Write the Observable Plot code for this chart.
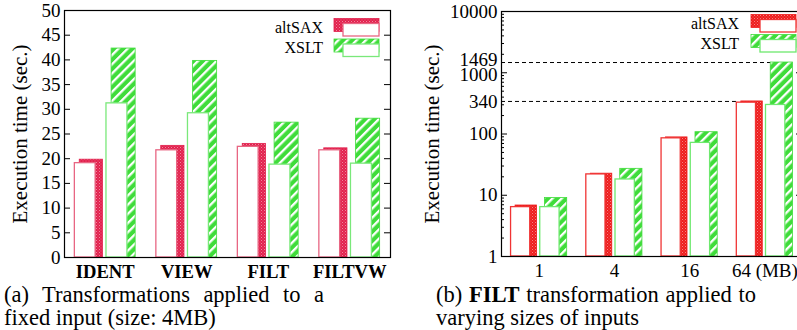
<!DOCTYPE html>
<html><head><meta charset="utf-8">
<script src="https://cdn.jsdelivr.net/npm/d3@7"></script>
<script src="https://cdn.jsdelivr.net/npm/@observablehq/plot@0.6"></script>
<style>
html,body{margin:0;padding:0;background:#fff;overflow:hidden;}
#wrap{position:relative;width:797px;height:330px;overflow:hidden;font-family:"Liberation Serif",serif;background:#fff;}
#wrap svg{position:absolute;top:0;}
.cap{position:absolute;width:320px;font-size:22.5px;line-height:23px;color:#000;white-space:nowrap;}
.j{text-align:justify;text-align-last:justify;white-space:normal;}
</style></head><body>
<div id="wrap"></div>
<script>
// ---- data ----
const seriesNames = ["altSAX", "XSLT"];
const categoriesA = ["IDENT", "VIEW", "FILT", "FILTVW"];
const altSaxTotalA = [19.8, 22.6, 23.0, 22.1];
const altSaxInnerA = [19.1, 21.7, 22.4, 21.7];
const xsltTotalA   = [42.3, 39.8, 27.3, 28.1];
const xsltInnerA   = [31.2, 29.2, 18.8, 19.0];
const yTicksA = [0, 5, 10, 15, 20, 25, 30, 35, 40, 45, 50];

const sizesB = ["1", "4", "16", "64"];
const unitB = "(MB)";
const altSaxTotalB = [6.8, 22.5, 88, 340];
const altSaxInnerB = [6.4, 21.9, 85, 325];
const xsltTotalB   = [9.0, 27, 107, 1469];
const xsltInnerB   = [6.4, 18.1, 71.6, 298];
const yTicksB = [1, 10, 100, 340, 1000, 1469, 10000];
const yMajorB = [1, 10, 100, 1000, 10000];

const yTitle = "Execution time (sec.)";

// ---- layout constants (band-relative offsets) ----
const OFF = {
  altShadow: [-0.313, -0.028], altWhite: [-0.373, -0.118],
  xsltShadow: [0.078, 0.373], xsltWhite: [0.015, 0.272]
};
function rows(vals, o) { return vals.map((v, i) => ({x1: i + o[0], x2: i + o[1], v})); }

function addDefs(svg, id, red) {
  const ns = "http://www.w3.org/2000/svg";
  const defs = document.createElementNS(ns, "defs");
  defs.innerHTML = `
   <pattern id="${id}-red" width="3" height="3" patternUnits="userSpaceOnUse">
     <rect width="3" height="3" fill="${red}"/>
     <rect x="0" y="0" width="1" height="1" fill="#fff" fill-opacity="0.45"/>
     <rect x="1.5" y="1.5" width="1" height="1" fill="#fff" fill-opacity="0.3"/>
   </pattern>
   <pattern id="${id}-green" width="6.5" height="6.5" patternUnits="userSpaceOnUse" patternTransform="rotate(45)">
     <rect width="6.5" height="6.5" fill="#3fdc3a"/>
     <rect width="2.3" height="6.5" fill="#fff"/>
   </pattern>`;
  svg.insertBefore(defs, svg.firstChild);
}
function addLegend(svg, id, red, redLine, greenLine, textRight, ys, sx) {
  const ns = "http://www.w3.org/2000/svg";
  const g = document.createElementNS(ns, "g");
  const fills = [`url(#${id}-red)`, `url(#${id}-green)`];
  const lines = [redLine, greenLine];
  const shadowStroke = [red, "#3fdc3a"];
  let html = "";
  seriesNames.forEach((name, k) => {
    const cy = ys[k];
    html += `<text x="${textRight}" y="${cy}" dy="0.34em" text-anchor="end" font-size="16" font-family="Liberation Serif">${name}</text>`;
    html += `<rect x="${sx}" y="${cy - 9}" width="45" height="13" fill="${fills[k]}" stroke="${shadowStroke[k]}" stroke-width="0.8"/>`;
    html += `<rect x="${sx + 9}" y="${cy - 4}" width="36" height="12.5" fill="#fff" stroke="${lines[k]}" stroke-width="1.3"/>`;
  });
  g.innerHTML = html;
  svg.appendChild(g);
}

const wrap = document.getElementById("wrap");
const H = 285;

// ---- panel (a) ----
{
  const W = 400, ml = 64, mr = 10, mt = 10, mb = H - 257;
  const pw = W - ml - mr;
  const red = "#e2214d", redLine = "#e86683", greenLine = "#7ae87a";
  const p = Plot.plot({
    width: W, height: H, marginLeft: ml, marginRight: mr, marginTop: mt, marginBottom: mb,
    style: {fontFamily: "Liberation Serif", fontSize: "19px", color: "#000", background: "transparent"},
    x: {type: "linear", domain: [-0.5, 3.5], axis: null},
    y: {type: "linear", domain: [0, 50], axis: null},
    marks: [
      Plot.rect(rows(altSaxTotalA, OFF.altShadow), {x1: "x1", x2: "x2", y1: 0, y2: "v", fill: "url(#pa-red)", stroke: red, strokeWidth: 0.8}),
      Plot.rect(rows(xsltTotalA, OFF.xsltShadow), {x1: "x1", x2: "x2", y1: 0, y2: "v", fill: "url(#pa-green)", stroke: "#3fdc3a", strokeWidth: 0.8}),
      Plot.rect(rows(altSaxInnerA, OFF.altWhite), {x1: "x1", x2: "x2", y1: 0, y2: "v", fill: "#fff", stroke: redLine, strokeWidth: 1.3}),
      Plot.rect(rows(xsltInnerA, OFF.xsltWhite), {x1: "x1", x2: "x2", y1: 0, y2: "v", fill: "#fff", stroke: greenLine, strokeWidth: 1.3}),
      Plot.frame({stroke: "#000", strokeWidth: 1.2}),
      Plot.tickY(yTicksA, {y: d => d, insetRight: pw - 6, stroke: "#000"}),
      Plot.tickY(yTicksA, {y: d => d, insetLeft: pw - 6, stroke: "#000"}),
      Plot.axisY({ticks: yTicksA, tickSize: 0, tickPadding: 4, label: null, tickFormat: d => String(d)}),
      Plot.text([yTitle], {frameAnchor: "left", dx: -44, rotate: -90, fontSize: 21, textAnchor: "middle", lineAnchor: "middle", text: d => d}),
      Plot.text(categoriesA, {x: (d, i) => i, frameAnchor: "bottom", lineAnchor: "top", dy: 7, fontWeight: "bold", fontSize: 18.6, text: d => d})
    ]
  });
  p.style.left = "0px";
  addDefs(p, "pa", red);
  addLegend(p, "pa", red, redLine, greenLine, 323, [27.5, 48], 334);
  wrap.appendChild(p);
}

// ---- panel (b) ----
{
  const left = 400, W = 410, ml = 101, mr = 8, mt = 11, mb = H - 256;
  const pw = W - ml - mr;
  const red = "#ee1c1c", redLine = "#f03434", greenLine = "#6ee86e";
  const minor = [2, 3, 4, 5, 6, 7, 8, 9].flatMap(m => [1, 10, 100, 1000].map(d => m * d));
  const dashRows = [
    {v: altSaxTotalB[3], x2: 3 + OFF.altWhite[0]},
    {v: xsltTotalB[3], x2: 3 + OFF.xsltShadow[0]}
  ];
  const up = [1469], down = [1000];
  const p = Plot.plot({
    width: W, height: H, marginLeft: ml, marginRight: mr, marginTop: mt, marginBottom: mb,
    style: {fontFamily: "Liberation Serif", fontSize: "19px", color: "#000", background: "transparent"},
    x: {type: "linear", domain: [-0.5, 3.5], axis: null},
    y: {type: "log", domain: [1, 10000], axis: null},
    marks: [
      Plot.ruleY(dashRows, {y: "v", x1: -0.5, x2: "x2", stroke: "#000", strokeWidth: 1, strokeDasharray: "4,3"}),
      Plot.rect(rows(altSaxTotalB, OFF.altShadow), {x1: "x1", x2: "x2", y1: 1, y2: "v", fill: "url(#pb-red)", stroke: red, strokeWidth: 0.8}),
      Plot.rect(rows(xsltTotalB, OFF.xsltShadow), {x1: "x1", x2: "x2", y1: 1, y2: "v", fill: "url(#pb-green)", stroke: "#3fdc3a", strokeWidth: 0.8}),
      Plot.rect(rows(altSaxInnerB, OFF.altWhite), {x1: "x1", x2: "x2", y1: 1, y2: "v", fill: "#fff", stroke: redLine, strokeWidth: 1.3}),
      Plot.rect(rows(xsltInnerB, OFF.xsltWhite), {x1: "x1", x2: "x2", y1: 1, y2: "v", fill: "#fff", stroke: greenLine, strokeWidth: 1.3}),
      Plot.frame({stroke: "#000", strokeWidth: 1.2}),
      Plot.tickY(minor, {y: d => d, insetRight: pw - 3, stroke: "#000"}),
      Plot.tickY(yMajorB, {y: d => d, insetRight: pw - 6, stroke: "#000"}),
      Plot.tickY(yMajorB, {y: d => d, insetLeft: pw - 6, stroke: "#000"}),
      Plot.text(yTicksB.filter(d => !up.includes(d) && !down.includes(d)), {y: d => d, frameAnchor: "left", textAnchor: "end", dx: -4, lineAnchor: "middle", text: d => String(d)}),
      Plot.text(yTicksB.filter(d => up.includes(d)), {y: d => d, frameAnchor: "left", textAnchor: "end", dx: -4, dy: -3, lineAnchor: "middle", text: d => String(d)}),
      Plot.text(yTicksB.filter(d => down.includes(d)), {y: d => d, frameAnchor: "left", textAnchor: "end", dx: -4, dy: 2, lineAnchor: "middle", text: d => String(d)}),
      Plot.text([yTitle], {frameAnchor: "left", dx: -69, rotate: -90, fontSize: 21, textAnchor: "middle", lineAnchor: "middle", text: d => d}),
      Plot.text(sizesB, {x: (d, i) => i, frameAnchor: "bottom", lineAnchor: "top", dy: 7,
        text: (d, i) => i === sizesB.length - 1 ? `${d} ${unitB}` : d})
    ]
  });
  p.style.left = left + "px";
  addDefs(p, "pb", red);
  addLegend(p, "pb", red, redLine, greenLine, 739 - left, [23.5, 43.5], 751 - left);
  wrap.appendChild(p);
}

// ---- captions ----
function cap(html, x, y, cls) {
  const d = document.createElement("div");
  d.className = "cap" + (cls ? " " + cls : "");
  d.style.left = x + "px"; d.style.top = y + "px";
  d.innerHTML = html;
  wrap.appendChild(d);
}
cap("(a) Transformations applied to a", 4, 283, "j");
cap("fixed input (size: 4MB)", 4, 306);
cap("(b) <b>FILT</b> transformation applied to", 436, 283, "j");
cap("varying sizes of inputs", 436, 306);
</script>
</body></html>
